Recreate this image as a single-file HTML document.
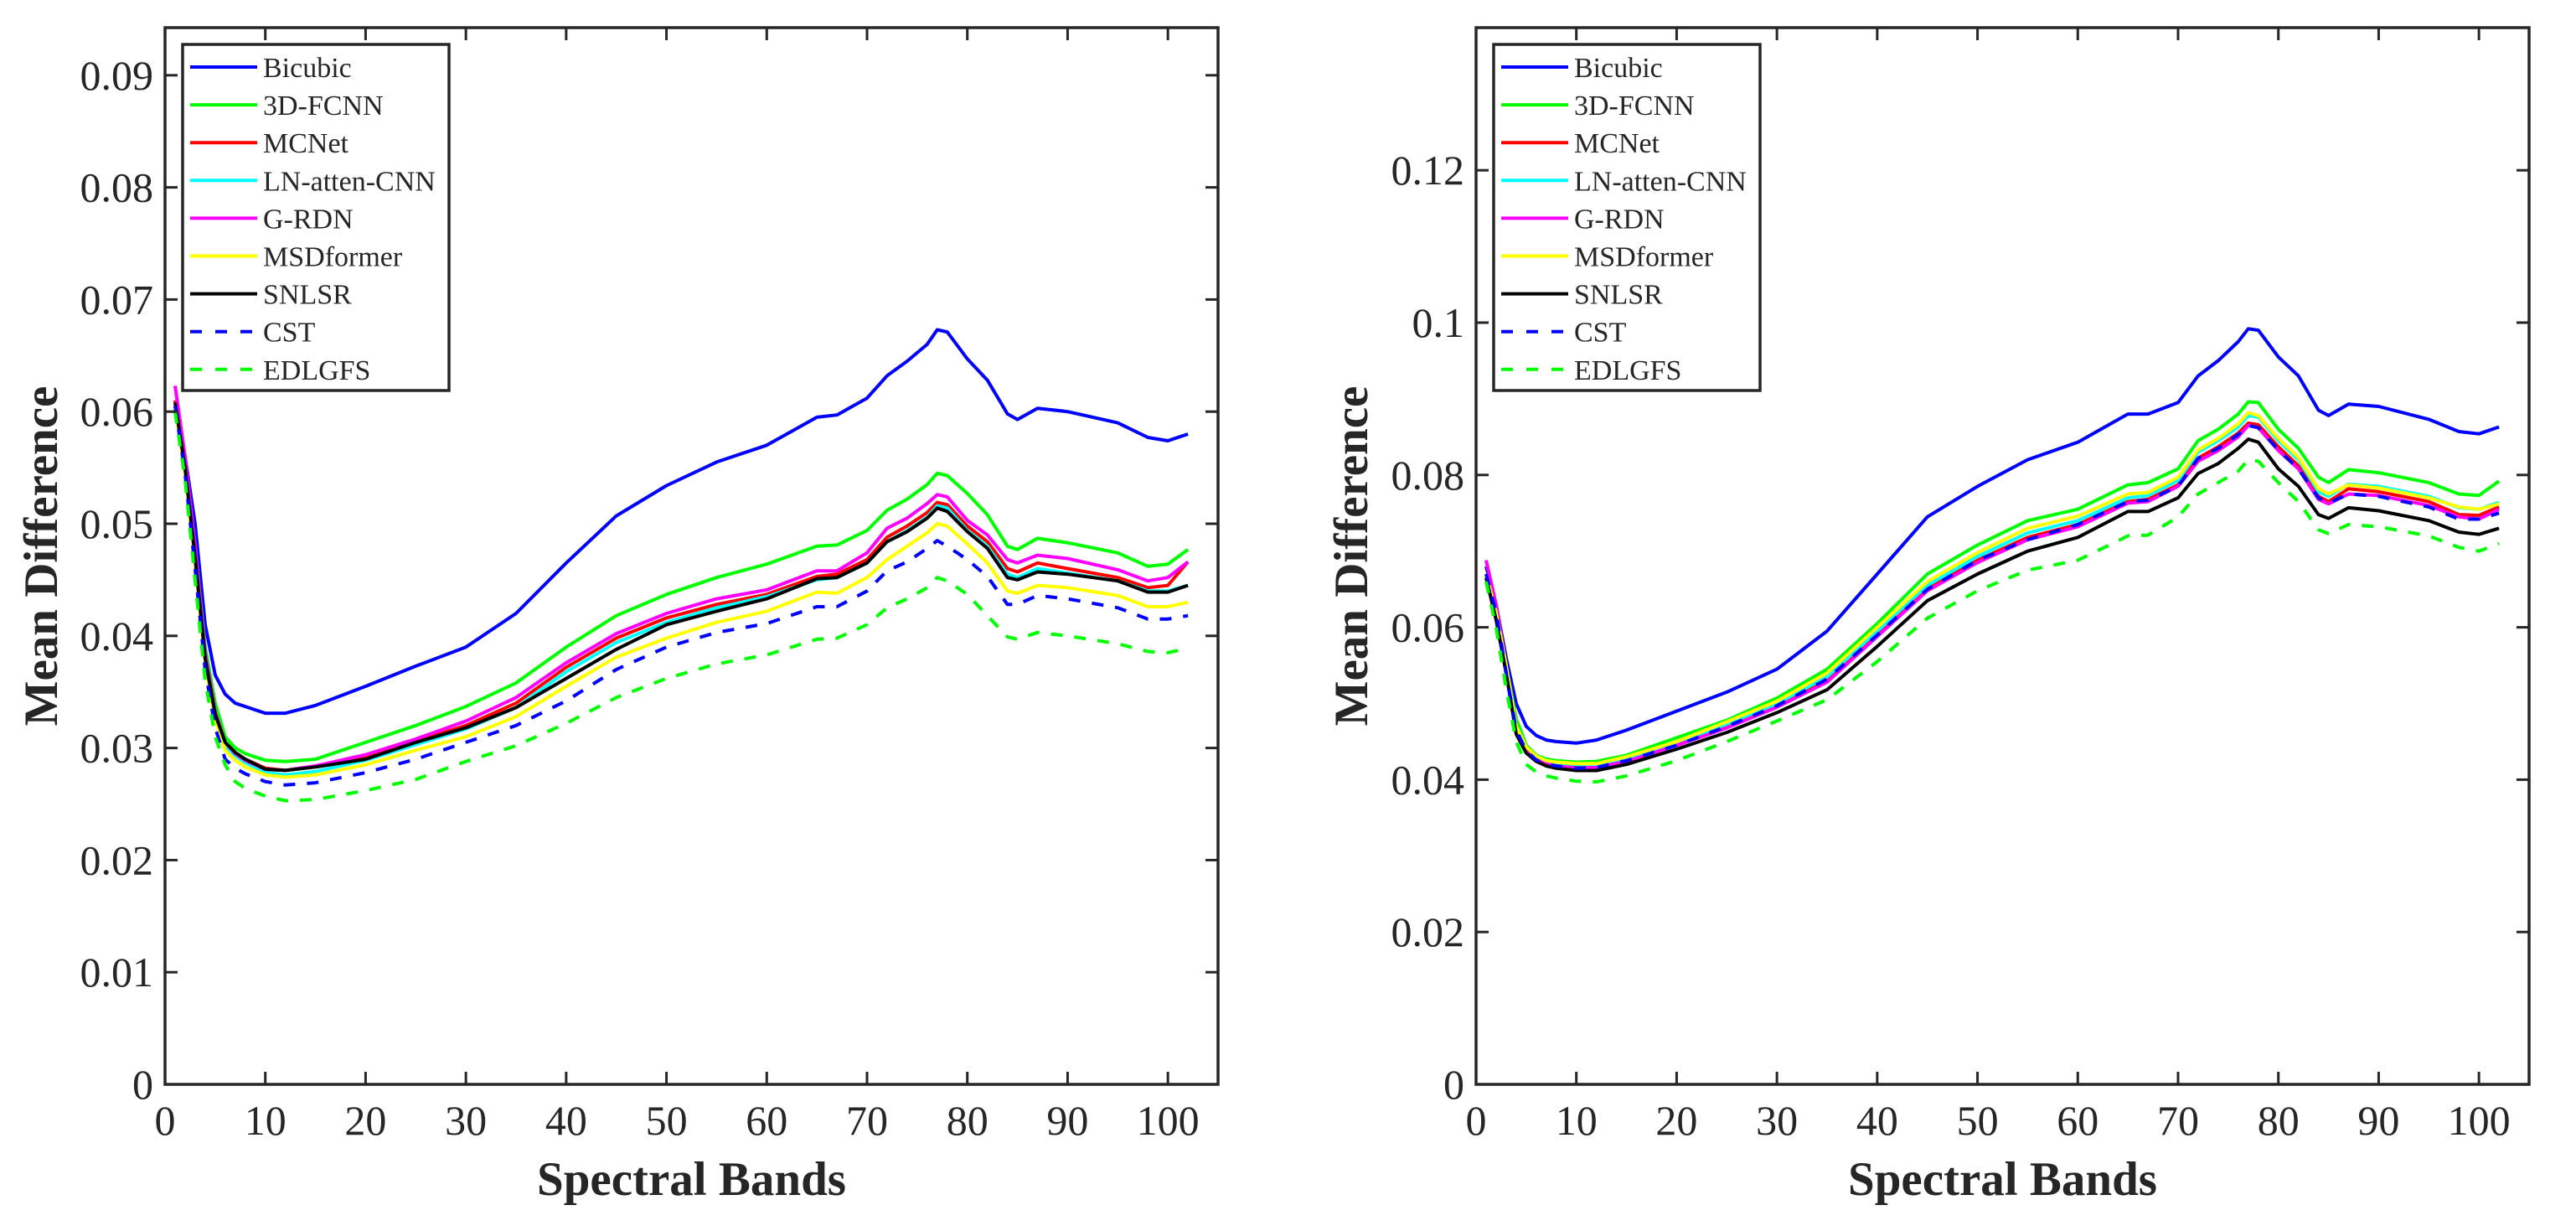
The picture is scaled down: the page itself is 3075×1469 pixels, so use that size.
<!DOCTYPE html>
<html><head><meta charset="utf-8"><style>
html,body{margin:0;padding:0;background:#fff;}
svg{display:block;}
text{font-family:"Liberation Serif",serif;fill:#262626;}
</style></head><body>
<svg id="chart" width="3075" height="1469" xmlns="http://www.w3.org/2000/svg"></svg>
<script>
const bands = [1,2,3,4,5,6,7,8,10,12,15,20,25,30,35,40,45,50,55,60,65,67,70,72,74,76,77,78,80,82,84,85,87,90,95,98,100,102];
const seriesNames = ["Bicubic","3D-FCNN","MCNet","LN-atten-CNN","G-RDN","MSDformer","SNLSR","CST","EDLGFS"];
const seriesColors = ["#0000ff","#00ff00","#ff0000","#00ffff","#ff00ff","#ffff00","#000000","#0000ff","#00ff00"];
const seriesDashed = [false,false,false,false,false,false,false,true,true];

const leftBicubic = [.061,.056,.050,.041,.0365,.0348,.034,.0337,.0331,.0331,.0338,.0355,.0373,.039,.042,.0465,.0507,.0534,.0555,.057,.0595,.0597,.0612,.0632,.0645,.066,.0673,.0671,.0647,.0628,.0598,.0593,.0603,.060,.059,.0577,.0574,.058];
const left3DFCNN = [.0605,.055,.048,.039,.034,.031,.0300,.0295,.0289,.0288,.029,.0305,.032,.0337,.0358,.039,.0418,.0437,.0452,.0464,.048,.0481,.0494,.0512,.0522,.0535,.0545,.0543,.0527,.0508,.048,.0477,.0487,.0483,.0474,.0462,.0464,.0477];
const leftMCNet = [.061,.055,.047,.038,.033,.0305,.0296,.029,.0282,.028,.0284,.0293,.0306,.032,.034,.0372,.0398,.0416,.0428,.0437,.0453,.0455,.0468,.0488,.0498,.051,.0519,.0517,.0498,.0484,.046,.0457,.0465,.046,.0452,.0443,.0445,.0466];
const leftLN = [.0605,.0548,.0468,.0378,.0328,.0302,.0293,.0287,.0278,.0276,.0279,.0289,.0303,.0317,.0336,.0368,.0394,.0412,.0425,.0435,.045,.0452,.0465,.0484,.0494,.0506,.0516,.0514,.0494,.048,.0455,.0452,.046,.0456,.0449,.044,.044,.0445];
const leftGRDN = [.0623,.056,.048,.0385,.0332,.0305,.0295,.0289,.0281,.028,.0284,.0294,.0308,.0324,.0345,.0376,.0402,.042,.0433,.0441,.0458,.0458,.0474,.0496,.0505,.0518,.0526,.0524,.0503,.049,.0468,.0465,.0472,.0469,.0459,.0449,.0452,.0466];
const leftMSD = [.0605,.0545,.0465,.0375,.0325,.0298,.0289,.0283,.0276,.0274,.0276,.0285,.0298,.031,.0328,.0355,.0381,.0398,.0412,.0422,.0439,.0438,.0452,.0468,.048,.0492,.05,.0498,.0482,.0465,.044,.0438,.0445,.0443,.0436,.0426,.0426,.043];
const leftSNLSR = [.0608,.055,.047,.038,.033,.0305,.0296,.029,.0281,.028,.0283,.029,.0305,.0318,.0336,.0362,.0388,.041,.0422,.0433,.0451,.0452,.0465,.0484,.0493,.0505,.0514,.0511,.0493,.0478,.0452,.045,.0457,.0455,.0449,.0439,.0439,.0445];
const leftCST = [.0605,.0545,.046,.037,.0318,.029,.0282,.0277,.027,.0267,.0269,.0278,.029,.0305,.032,.0342,.037,.039,.0403,.0411,.0426,.0426,.044,.0458,.0466,.0478,.0485,.048,.0468,.0453,.0428,.0428,.0436,.0433,.0425,.0415,.0415,.0418];
const leftEDLGFS = [.06,.054,.045,.036,.031,.0285,.027,.0264,.0257,.0253,.0254,.0262,.0272,.0288,.0302,.0322,.0345,.0362,.0375,.0383,.0397,.0398,.041,.0425,.0433,.0443,.0452,.0449,.0437,.0418,.0399,.0397,.0403,.04,.0393,.0386,.0385,.0389];

const rightBicubic = [.068,.063,.056,.050,.047,.0458,.0452,.045,.0448,.0452,.0465,.049,.0515,.0545,.0595,.067,.0745,.0785,.082,.0843,.088,.088,.0895,.093,.095,.0975,.0992,.099,.0955,.093,.0885,.0878,.0893,.089,.0873,.0857,.0854,.0863];
const right3DFCNN = [.067,.062,.055,.048,.0445,.0432,.0427,.0425,.0423,.0424,.0432,.0455,.0478,.0507,.0545,.0605,.067,.0708,.074,.0755,.0787,.079,.0808,.0845,.086,.088,.0896,.0895,.086,.0835,.0797,.079,.0807,.0803,.079,.0775,.0773,.0792];
const rightMCNet = [.067,.062,.055,.047,.044,.0428,.0422,.042,.0417,.0418,.0426,.0445,.047,.0497,.0532,.059,.065,.0688,.0718,.0735,.0765,.0768,.0787,.0822,.0837,.0855,.0868,.0866,.0837,.0812,.0772,.0765,.0782,.0778,.0765,.0748,.0747,.0758];
const rightLN = [.067,.062,.055,.047,.0442,.043,.0424,.0422,.042,.042,.0428,.0448,.0473,.05,.0535,.0595,.0655,.0693,.0724,.074,.077,.0773,.0793,.083,.0845,.0863,.0878,.0876,.0845,.082,.0778,.0772,.0788,.0785,.0772,.0757,.0755,.0764];
const rightGRDN = [.0688,.063,.055,.047,.044,.0427,.0421,.0418,.0415,.0416,.0424,.0445,.0468,.0495,.0528,.0588,.0648,.0685,.0715,.0732,.0763,.0765,.0785,.0818,.0832,.085,.0865,.0862,.0832,.0808,.0768,.0762,.0775,.0773,.076,.0745,.0742,.0755];
const rightMSD = [.067,.062,.055,.047,.0443,.0431,.0425,.0423,.0421,.0421,.043,.045,.0476,.0503,.054,.06,.066,.0698,.073,.0746,.0775,.0777,.0797,.0833,.0848,.0867,.0882,.0878,.0848,.0823,.0782,.0775,.0787,.0783,.077,.0758,.0755,.0762];
const rightSNLSR = [.0665,.061,.054,.046,.0435,.0424,.0418,.0415,.0412,.0412,.042,.044,.0462,.0488,.0518,.0575,.0635,.067,.07,.0718,.0752,.0752,.077,.0802,.0815,.0835,.0847,.0843,.0808,.0785,.0748,.0743,.0757,.0753,.074,.0725,.0722,.073];
const rightCST = [.067,.062,.054,.0465,.0438,.0426,.042,.0418,.0415,.0416,.0425,.0445,.047,.0497,.0532,.059,.065,.0688,.0715,.0735,.0765,.0767,.0785,.0822,.0835,.0853,.0865,.0862,.0833,.0808,.077,.0763,.0775,.0772,.0758,.0742,.0742,.075];
const rightEDLGFS = [.066,.06,.052,.045,.042,.041,.0405,.0402,.0398,.0397,.0405,.0425,.045,.0477,.0505,.0555,.0612,.0648,.0675,.0688,.072,.0721,.0745,.0775,.079,.0805,.082,.0818,.079,.0765,.0728,.0723,.0735,.0732,.072,.0705,.07,.071];

const xTicks = [0,10,20,30,40,50,60,70,80,90,100];
const leftYTicks = [0,0.01,0.02,0.03,0.04,0.05,0.06,0.07,0.08,0.09];
const leftYLabels = ["0","0.01","0.02","0.03","0.04","0.05","0.06","0.07","0.08","0.09"];
const rightYTicks = [0,0.02,0.04,0.06,0.08,0.1,0.12];
const rightYLabels = ["0","0.02","0.04","0.06","0.08","0.1","0.12"];

const NS = "http://www.w3.org/2000/svg";
const svg = document.getElementById('chart');
function mk(tag, attrs, parent){
  const e = document.createElementNS(NS, tag);
  for (const k in attrs) e.setAttribute(k, attrs[k]);
  (parent||svg).appendChild(e);
  return e;
}

function panel(cfg){
  const g = mk('g', {});
  
  
  const L = cfg.left, R = cfg.left + 1257, T = 33, B = 1294;
  const xs = v => L + (v - 0) / 105 * (R - L);
  const ys = v => B - v / cfg.yPerPx;
  const series = cfg.series;
  series.forEach((vals, i) => {
    const pts = bands.map((b, j) => xs(b).toFixed(1) + ',' + ys(vals[j]).toFixed(1)).join(' ');
    const pl = mk('polyline', {points: pts, fill: 'none', stroke: seriesColors[i], 'stroke-width': 4, 'stroke-linejoin': 'round'}, g);
    if (seriesDashed[i]) pl.setAttribute('stroke-dasharray', '14,14');
    
    
  });
  const box = mk('rect', {x: L, y: T, width: R - L, height: B - T, fill: 'none', stroke: '#262626', 'stroke-width': 3.5}, g);
  
  
  xTicks.forEach(t => {
    const x = xs(t);
    mk('line', {x1: x, y1: B, x2: x, y2: B - 15, stroke: '#262626', 'stroke-width': 3}, g);
    mk('line', {x1: x, y1: T, x2: x, y2: T + 15, stroke: '#262626', 'stroke-width': 3}, g);
    const tx = mk('text', {x: x, y: 1354, 'font-size': 50, 'text-anchor': 'middle'}, g);
    tx.textContent = String(t);
    
    
  });
  cfg.yTicks.forEach((t, i) => {
    const y = ys(t);
    mk('line', {x1: L, y1: y, x2: L + 15, y2: y, stroke: '#262626', 'stroke-width': 3}, g);
    mk('line', {x1: R, y1: y, x2: R - 15, y2: y, stroke: '#262626', 'stroke-width': 3}, g);
    const tx = mk('text', {x: L - 14, y: y + 17, 'font-size': 50, 'text-anchor': 'end'}, g);
    tx.textContent = cfg.yLabels[i];
    
    
  });
  const xt = mk('text', {x: (L + R) / 2, y: 1426, 'font-size': 57, 'font-weight': 'bold', 'text-anchor': 'middle'}, g);
  xt.textContent = 'Spectral Bands';
  
  
  const yt = mk('text', {x: 0, y: 0, 'font-size': 57, 'font-weight': 'bold', 'text-anchor': 'middle', transform: 'translate(' + cfg.yTitleX + ',' + ((T + B) / 2) + ') rotate(-90)'}, g);
  yt.textContent = 'Mean Difference';
  
  
  const lg = mk('g', {}, g);
  
  
  const lx = L + 21;
  mk('rect', {x: lx, y: 53, width: 318, height: 413, fill: '#fff', stroke: '#262626', 'stroke-width': 3.5}, lg);
  seriesNames.forEach((n, i) => {
    const cy = 80 + i * 45.1;
    const ent = mk('g', {}, lg);
    
    
    const ln = mk('line', {x1: lx + 9, y1: cy, x2: lx + 89, y2: cy, stroke: seriesColors[i], 'stroke-width': 4}, ent);
    if (seriesDashed[i]) ln.setAttribute('stroke-dasharray', '14,16');
    const tx = mk('text', {x: lx + 96, y: cy + 12, 'font-size': 34}, ent);
    tx.textContent = n;
  });
}

panel({name: 'left-panel', left: 197, yPerPx: 0.01 / 133.8, yTicks: leftYTicks, yLabels: leftYLabels, yTitleX: 68,
  series: [leftBicubic, left3DFCNN, leftMCNet, leftLN, leftGRDN, leftMSD, leftSNLSR, leftCST, leftEDLGFS]});
panel({name: 'right-panel', left: 1762, yPerPx: 0.02 / 181.8, yTicks: rightYTicks, yLabels: rightYLabels, yTitleX: 1632,
  series: [rightBicubic, right3DFCNN, rightMCNet, rightLN, rightGRDN, rightMSD, rightSNLSR, rightCST, rightEDLGFS]});
</script>
</body></html>
